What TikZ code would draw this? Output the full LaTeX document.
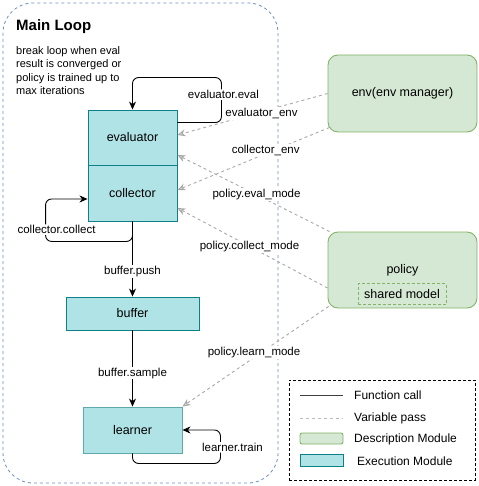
\documentclass[tikz,border=0pt]{standalone}
\usepackage{fontspec}
\setmainfont{Liberation Sans}
\usetikzlibrary{arrows.meta,calc}
\definecolor{cyanfill}{HTML}{B0E3E6}
\definecolor{cyandraw}{HTML}{0E8088}
\definecolor{cyanlight}{HTML}{5FA9AD}
\definecolor{greenfill}{HTML}{D5E8D4}
\definecolor{greendraw}{HTML}{82B366}
\definecolor{loopdraw}{HTML}{6C8EBF}
\definecolor{passgray}{HTML}{A8A8A8}
\begin{document}
\begin{tikzpicture}[x=1pt,y=-1pt,
  exec/.style={draw=cyandraw, fill=cyanfill, line width=0.9pt, inner sep=0pt, font=\fontsize{12.5}{14}\selectfont},
  descr/.style={draw=greendraw, fill=greenfill, line width=0.9pt, rounded corners=10pt, inner sep=0pt, font=\fontsize{12.5}{14}\selectfont},
  lbl/.style={fill=white, inner sep=1pt, font=\fontsize{11.5}{13}\selectfont},
  fcall/.style={draw=black, line width=0.9pt, -{Stealth[length=8pt,width=7pt,inset=2.5pt]}},
  vpass/.style={draw=passgray, line width=0.9pt, dash pattern=on 3pt off 3pt, -{Stealth[length=8pt,width=7pt,inset=2.5pt,fill=passgray!45]}},
  legtxt/.style={anchor=west, inner sep=0pt, font=\fontsize{12}{14}\selectfont}
]
\useasboundingbox (0,0) rectangle (478,486);
% main loop container
\draw[draw=loopdraw, line width=0.8pt, dash pattern=on 3pt off 3pt, rounded corners=30pt] (3,3) rectangle (278,483);
\node[anchor=west, inner sep=0pt, font=\bfseries\fontsize{15}{17}\selectfont] (title) at (16,27) {Main Loop};
\node[anchor=north west, inner sep=0pt, align=left, font=\fontsize{11}{13.5}\selectfont] (note) at (16,46)
  {break loop when eval\\result is converged or\\policy is trained up to\\max iterations};

% execution modules
\node[exec, minimum width=89pt, minimum height=55pt] (evaluator) at (132.5,137.5) {evaluator};
\node[exec, minimum width=89pt, minimum height=56pt] (collector) at (132.5,193) {collector};
\node[exec, minimum width=133pt, minimum height=33pt] (buffer) at (132.5,313.5) {buffer};
\node[exec, draw=cyanlight, minimum width=99pt, minimum height=46pt] (learner) at (132.5,430) {learner};

% description modules
\node[descr, minimum width=149pt, minimum height=77pt] (env) at (402.5,93.5) {env(env manager)};
\node[descr, minimum width=149pt, minimum height=76pt, text depth=0pt] (policy) at (402.5,270) {};
\node[inner sep=0pt, font=\fontsize{12.5}{14}\selectfont] (policytxt) at (402.5,270) {policy};
\node[draw=greendraw, line width=0.9pt, dash pattern=on 3pt off 2pt, inner sep=0pt, minimum width=88pt, minimum height=21pt, font=\fontsize{12.5}{14}\selectfont] (shared) at (402,294) {shared model};

% function calls
\draw[fcall, rounded corners=6pt] ([yshift=-13pt]evaluator.north east) -- ++(44,0)
  |- node[lbl, pos=0.31, xshift=2pt] {evaluator.eval} ([yshift=32pt]evaluator.north) -- (evaluator.north);
\draw[fcall, rounded corners=6pt] (collector.south) -- ++(0,20)
  -| node[lbl, pos=0.64, xshift=11pt] {collector.collect} ($([yshift=-6pt]collector.west)+(-42,0)$) -- ([yshift=-6pt]collector.west);
\draw[fcall] (collector.south) -- node[lbl, pos=0.67] {buffer.push} (buffer.north);
\draw[fcall] (buffer.south) -- node[lbl, pos=0.56] {buffer.sample} (learner.north);
\draw[fcall, rounded corners=6pt] (learner.south) -- ++(0,10)
  -| node[lbl, pos=0.74, xshift=12pt] {learner.train} ($(learner.east)+(38,0)$) -- (learner.east);

% variable passes
\draw[vpass] (env.west) -- node[lbl, pos=0.44, yshift=-2pt] {evaluator\_env} ([yshift=2.5pt]evaluator.east);
\draw[vpass] ($(env.south west)+(2,-5)$) -- node[lbl, pos=0.42, yshift=3pt] {collector\_env} ([yshift=3pt]collector.east);
\draw[vpass] ($(policy.north west)+(2,0)$) -- node[lbl, pos=0.48] {policy.eval\_mode} ([yshift=-17.5pt]evaluator.east);
\draw[vpass] ($(policy.west)+(0,18)$) -- node[lbl, pos=0.52] {policy.collect\_mode} ([yshift=-15pt]collector.east);
\draw[vpass] ($(policy.south west)+(1,-2)$) -- node[lbl, pos=0.51, yshift=5pt] {policy.learn\_mode} (learner.north east);

% legend
\node[draw=black, line width=0.8pt, dash pattern=on 3pt off 2pt, minimum width=186pt, minimum height=100pt, inner sep=0pt] (legend) at (382,430) {};
\coordinate (fa) at (300,395);
\coordinate (fb) at (343,395);
\draw[draw=black!75, line width=0.9pt] (fa) -- (fb);
\node[legtxt] (ftxt) at (354,395) {Function call};
\coordinate (va) at (300,418);
\coordinate (vb) at (343,418);
\draw[draw=passgray!80, line width=0.9pt, dash pattern=on 3pt off 3pt] (va) -- (vb);
\node[legtxt] (vtxt) at (354,418) {Variable pass};
\node[draw=greendraw, fill=greenfill, line width=0.9pt, rounded corners=2pt, minimum width=43pt, minimum height=11pt, inner sep=0pt] (dsample) at (321.5,438.5) {};
\node[legtxt] (dtxt) at (354,439) {Description Module};
\node[draw=cyandraw, fill=cyanfill, line width=0.9pt, minimum width=43pt, minimum height=12pt, inner sep=0pt] (esample) at (321.5,460) {};
\node[legtxt] (etxt) at (357,461) {Execution Module};
\end{tikzpicture}
\end{document}
